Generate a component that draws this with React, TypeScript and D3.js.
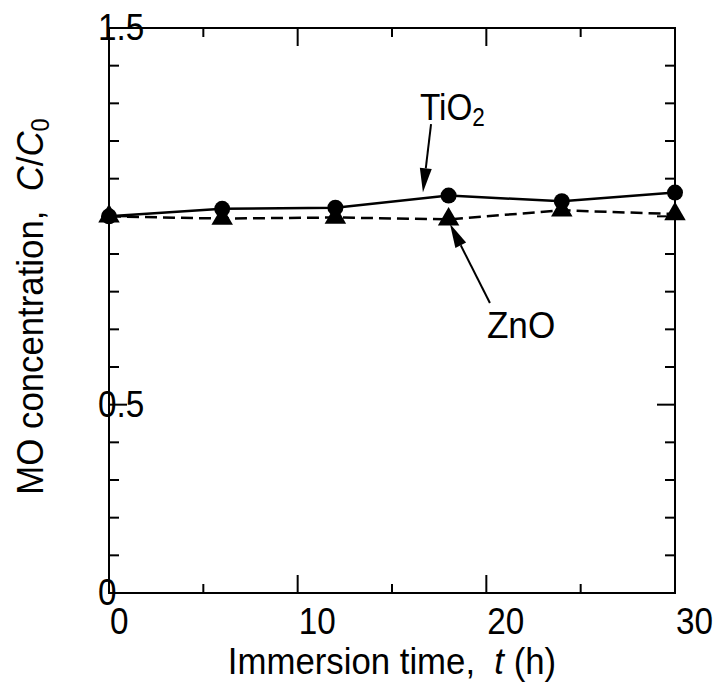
import React from "react";
import * as d3 from "d3";

// immersion time (h)
const times = [0, 6, 12, 18, 24, 30];
// C/C0 values
const tio2 = [1.0, 1.02, 1.023, 1.055, 1.04, 1.063];
const zno = [1.0, 0.994, 0.997, 0.992, 1.016, 1.006];

const xTickLabels = [0, 10, 20, 30];
const yTickLabels = [0, 0.5, 1.5];

// annotation arrows in data units: [tailX, tailY, tipX, tipY]
const tio2Arrow = [17.07, 1.245, 16.64, 1.064];
const znoArrow = [20.19, 0.77, 18.07, 0.98];

const WIDTH = 716;
const HEIGHT = 684;
const MARGIN = { top: 28, right: 41, bottom: 91, left: 109 };
const FONT = "'Liberation Sans', Arial, sans-serif";
const FS = 37;
const SUB = 25;

// the original lettering is a bit condensed
const Label = ({ x, y, rotate = 0, anchor = "start", squeeze = 0.9, children }) => (
  <text
    transform={`translate(${x},${y}) rotate(${rotate}) scale(${squeeze},1)`}
    textAnchor={anchor}
    fontFamily={FONT}
    fontSize={FS}
    xmlSpace="preserve"
  >
    {children}
  </text>
);

const Arrow = ({ x1, y1, x2, y2 }) => {
  const a = Math.atan2(y2 - y1, x2 - x1);
  const len = 24;
  const hw = 6;
  const bx = x2 - len * Math.cos(a);
  const by = y2 - len * Math.sin(a);
  const px = -Math.sin(a) * hw;
  const py = Math.cos(a) * hw;
  return (
    <g>
      <line x1={x1} y1={y1} x2={bx} y2={by} stroke="#000" strokeWidth={2} />
      <polygon
        points={`${x2},${y2} ${bx + px},${by + py} ${bx - px},${by - py}`}
        fill="#000"
      />
    </g>
  );
};

const App = () => {
  const x = d3
    .scaleLinear()
    .domain([0, 30])
    .range([MARGIN.left, WIDTH - MARGIN.right]);
  const y = d3
    .scaleLinear()
    .domain([0, 1.5])
    .range([HEIGHT - MARGIN.bottom, MARGIN.top]);

  const x0 = x.range()[0];
  const x1 = x.range()[1];
  const y0 = y.range()[0];
  const y1 = y.range()[1];

  const line = d3
    .line<number>()
    .x((d, i) => x(times[i]))
    .y((d) => y(d));

  const circle = d3.symbol(d3.symbolCircle, Math.PI * 64)();
  const triangle = d3.symbol(d3.symbolTriangle, 200)();

  const xMinor = d3.range(0, 31, 5);
  const yMinor = d3.range(0, 16).map((d) => d / 10);

  return (
    <svg width={WIDTH} height={HEIGHT} style={{ position: "absolute", left: 0, top: 0 }}>
      <rect width={WIDTH} height={HEIGHT} fill="#fff" />

      {/* ticks, inward on all four sides */}
      {xMinor.map((t) => {
        const len = t % 10 === 0 ? 18 : 9;
        return (
          <g key={"xt" + t} stroke="#000" strokeWidth={2}>
            <line x1={x(t)} x2={x(t)} y1={y0} y2={y0 - len} />
            <line x1={x(t)} x2={x(t)} y1={y1} y2={y1 + len} />
          </g>
        );
      })}
      {yMinor.map((t) => {
        const major = Math.round(t * 10) % 5 === 0;
        const len = major ? 18 : 10;
        return (
          <g key={"yt" + t} stroke="#000" strokeWidth={2}>
            <line x1={x0} x2={x0 + len} y1={y(t)} y2={y(t)} />
            <line x1={x1} x2={x1 - len} y1={y(t)} y2={y(t)} />
          </g>
        );
      })}

      {/* tick labels */}
      {xTickLabels.map((t) => (
        <Label key={"xl" + t} x={x(t) + 1} y={y0 + 41}>
          {t}
        </Label>
      ))}
      {yTickLabels.map((t) => (
        <Label key={"yl" + t} x={x0 - 11} y={y(t) + 12}>
          {t}
        </Label>
      ))}

      {/* frame */}
      <rect
        x={x0}
        y={y1}
        width={x1 - x0}
        height={y0 - y1}
        fill="none"
        stroke="#000"
        strokeWidth={2}
      />

      {/* series lines */}
      <path d={line(tio2)} fill="none" stroke="#000" strokeWidth={2.5} />
      <path
        d={line(zno)}
        fill="none"
        stroke="#000"
        strokeWidth={2.5}
        strokeDasharray="12,6"
      />

      {/* markers */}
      {tio2.map((d, i) => (
        <path key={"c" + i} d={circle} transform={`translate(${x(times[i])},${y(d)})`} fill="#000" />
      ))}
      {zno.map((d, i) => (
        <path key={"t" + i} d={triangle} transform={`translate(${x(times[i])},${y(d)})`} fill="#000" />
      ))}

      {/* annotations */}
      <Arrow x1={x(tio2Arrow[0])} y1={y(tio2Arrow[1])} x2={x(tio2Arrow[2])} y2={y(tio2Arrow[3])} />
      <Arrow x1={x(znoArrow[0])} y1={y(znoArrow[1])} x2={x(znoArrow[2])} y2={y(znoArrow[3])} />
      <Label x={x(16.48)} y={y(1.256)}>
        TiO
        <tspan fontSize={SUB} dy={6}>2</tspan>
      </Label>
      <Label x={x(20.03)} y={y(0.677)} squeeze={0.95}>
        ZnO
      </Label>

      {/* axis titles */}
      <Label x={(x0 + x1) / 2} y={674} anchor="middle" squeeze={0.94}>
        {"Immersion time,  "}
        <tspan fontStyle="italic">t</tspan>
        {" (h)"}
      </Label>
      <Label x={43} y={(y0 + y1) / 2 - 4} rotate={-90} anchor="middle" squeeze={0.94}>
        {"MO concentration,  "}
        <tspan fontStyle="italic">C</tspan>
        {"/"}
        <tspan fontStyle="italic">C</tspan>
        <tspan fontSize={SUB} dy={6}>0</tspan>
      </Label>
    </svg>
  );
};

export default App;
